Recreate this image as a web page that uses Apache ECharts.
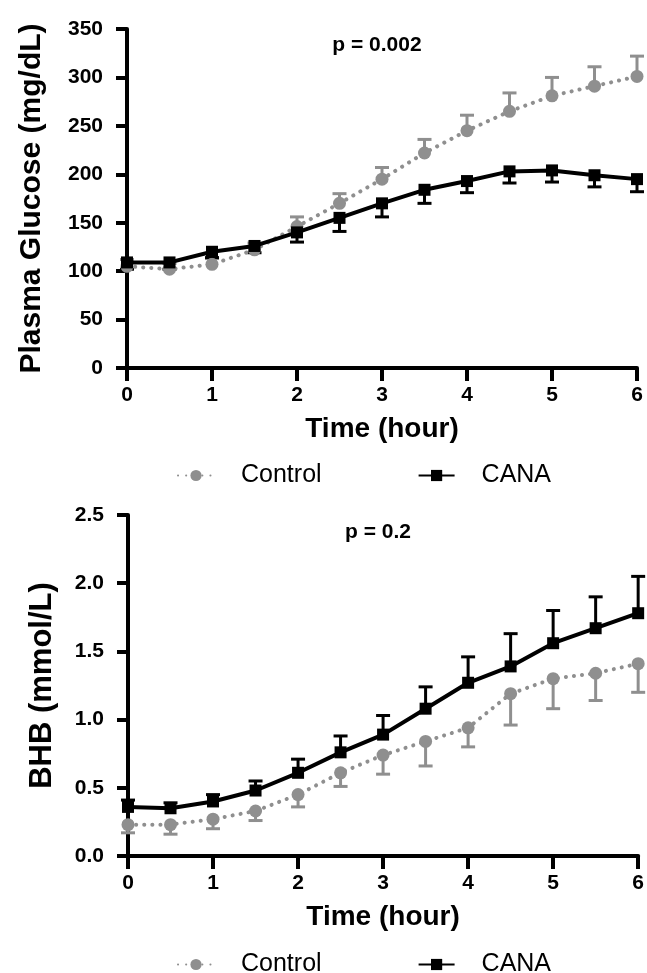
<!DOCTYPE html>
<html>
<head>
<meta charset="utf-8">
<script src="https://cdn.jsdelivr.net/npm/echarts@6/dist/echarts.min.js"></script>
<style>html,body{margin:0;padding:0;background:#fff}#c{width:647px;height:973px}</style>
</head>
<body>
<div id="c"></div>
<script>
var time = [0, 0.5, 1, 1.5, 2, 2.5, 3, 3.5, 4, 4.5, 5, 5.5, 6];
var xTicks = [0, 1, 2, 3, 4, 5, 6];
var glucoseTicks = [0, 50, 100, 150, 200, 250, 300, 350];
var bhbTicks = [0, 0.5, 1.0, 1.5, 2.0, 2.5];

var glucoseControl = [105, 102, 107, 122, 146, 170, 195, 222, 245, 265, 281, 291, 301];
var glucoseControlErr = [7, 6, 6, 7, 10, 10, 12, 14, 16, 19, 19, 20, 21];
var glucoseCana = [109, 109, 120, 126, 140, 155, 170, 184, 193, 203, 204, 199, 195];
var glucoseCanaErr = [7, 7, 6, 7, 10, 14, 14, 14, 12, 12, 12, 12, 13];

var bhbControl = [0.23, 0.23, 0.27, 0.33, 0.45, 0.61, 0.74, 0.84, 0.94, 1.19, 1.30, 1.34, 1.41];
var bhbControlErr = [0.06, 0.07, 0.07, 0.07, 0.09, 0.10, 0.14, 0.18, 0.14, 0.23, 0.22, 0.20, 0.21];
var bhbCana = [0.36, 0.35, 0.40, 0.48, 0.61, 0.76, 0.89, 1.08, 1.27, 1.39, 1.56, 1.67, 1.78];
var bhbCanaErr = [0.05, 0.04, 0.05, 0.07, 0.10, 0.12, 0.14, 0.16, 0.19, 0.24, 0.24, 0.23, 0.27];

var seriesNames = ['Control', 'CANA'];
var pLabels = ['p = 0.002', 'p = 0.2'];

var GRAY = '#8f8f8f';
var FONT = 'Liberation Sans, Arial, sans-serif';

function pts(vals) { return time.map(function (t, i) { return [t, vals[i]]; }); }
function errUp(vals, err) { return time.map(function (t, i) { return [t, vals[i], vals[i] + err[i]]; }); }
function errDown(vals, err) { return time.map(function (t, i) { return [t, vals[i] - err[i], vals[i]]; }); }

function errSeries(idx, data, color, up) {
  return {
    type: 'custom', xAxisIndex: idx, yAxisIndex: idx, z: 1, silent: true,
    data: data,
    renderItem: function (params, api) {
      var x = api.value(0);
      var lo = api.coord([x, api.value(1)]);
      var hi = api.coord([x, api.value(2)]);
      var w = 7;
      var capY = up ? hi[1] : lo[1];
      return {
        type: 'group',
        children: [
          { type: 'line', shape: { x1: lo[0], y1: lo[1], x2: hi[0], y2: hi[1] }, style: { stroke: color, lineWidth: 3 } },
          { type: 'line', shape: { x1: lo[0] - w, y1: capY, x2: lo[0] + w, y2: capY }, style: { stroke: color, lineWidth: 3 } }
        ]
      };
    }
  };
}

function xAxis(idx) {
  return {
    type: 'value', gridIndex: idx, min: xTicks[0], max: xTicks[xTicks.length - 1], interval: 1,
    name: 'Time (hour)', nameLocation: 'middle', nameGap: 47,
    nameTextStyle: { fontFamily: FONT, fontWeight: 'bold', fontSize: 28, color: '#000' },
    axisLine: { show: true, onZero: false, lineStyle: { color: '#000', width: 4 } },
    axisTick: { show: true, length: 13, lineStyle: { color: '#000', width: 4 } },
    axisLabel: { margin: 17, fontFamily: FONT, fontWeight: 'bold', fontSize: 21, color: '#000' },
    splitLine: { show: false }
  };
}

function yAxis(idx, ticks, name, gap, size, fmt) {
  return {
    type: 'value', gridIndex: idx, min: ticks[0], max: ticks[ticks.length - 1], interval: ticks[1] - ticks[0],
    name: name, nameLocation: 'middle', nameGap: gap, nameRotate: 90,
    nameTextStyle: { fontFamily: FONT, fontWeight: 'bold', fontSize: size, color: '#000' },
    axisLine: { show: true, lineStyle: { color: '#000', width: 4 } },
    axisTick: { show: true, length: 11, lineStyle: { color: '#000', width: 4 } },
    axisLabel: { margin: 24, fontFamily: FONT, fontWeight: 'bold', fontSize: 21, color: '#000', formatter: fmt },
    splitLine: { show: false }
  };
}

function controlLine(idx, vals) {
  return {
    name: seriesNames[0], type: 'line', xAxisIndex: idx, yAxisIndex: idx, z: 3,
    data: pts(vals), symbol: 'circle', symbolSize: 13,
    itemStyle: { color: GRAY },
    lineStyle: { color: GRAY, width: 4, type: [0.1, 8], cap: 'round' }
  };
}
function canaLine(idx, vals) {
  return {
    name: seriesNames[1], type: 'line', xAxisIndex: idx, yAxisIndex: idx, z: 4,
    data: pts(vals), symbol: 'rect', symbolSize: 12,
    itemStyle: { color: '#000' },
    lineStyle: { color: '#000', width: 4 }
  };
}

function legend(top) {
  return {
    data: seriesNames, top: top, left: 172, itemGap: 96, itemWidth: 36, itemHeight: 14,
    selectedMode: false,
    textStyle: { fontFamily: FONT, fontSize: 25, color: '#000', padding: [0, 0, 0, 22] }
  };
}

function pText(txt, x, y) {
  return { type: 'text', x: x, y: y, style: { text: txt, align: 'center', verticalAlign: 'middle', fontFamily: FONT, fontWeight: 'bold', fontSize: 21, fill: '#000' } };
}

var option = {
  animation: false,
  backgroundColor: '#fff',
  grid: [
    { left: 127, top: 29, width: 510, height: 339 },
    { left: 128, top: 515, width: 512, height: 341 }
  ],
  xAxis: [xAxis(0), xAxis(1)],
  yAxis: [
    yAxis(0, glucoseTicks, 'Plasma Glucose (mg/dL)', 80, 30, function (v) { return String(v); }),
    yAxis(1, bhbTicks, 'BHB (mmol/L)', 70, 31, function (v) { return v.toFixed(1); })
  ],
  legend: [legend(458), legend(947)],
  graphic: [pText(pLabels[0], 377, 45), pText(pLabels[1], 378, 532)],
  series: [
    errSeries(0, errUp(glucoseControl, glucoseControlErr), GRAY, true),
    errSeries(0, errDown(glucoseCana, glucoseCanaErr), '#000', false),
    errSeries(1, errDown(bhbControl, bhbControlErr), GRAY, false),
    errSeries(1, errUp(bhbCana, bhbCanaErr), '#000', true),
    controlLine(0, glucoseControl), canaLine(0, glucoseCana),
    controlLine(1, bhbControl), canaLine(1, bhbCana)
  ]
};
var chart = echarts.init(document.getElementById('c'), null, { renderer: 'canvas' });
chart.setOption(option);
</script>
</body>
</html>
